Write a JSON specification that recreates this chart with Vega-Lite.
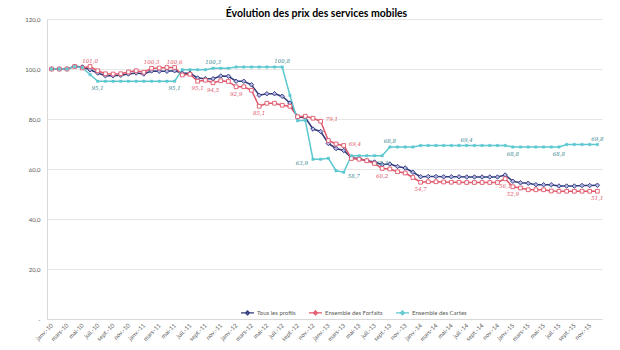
{
  "$schema": "https://vega.github.io/schema/vega-lite/v6.json",
  "width": 555,
  "height": 300,
  "autosize": {"type": "none"},
  "padding": {"left": 47, "top": 19, "right": 18, "bottom": 31},
  "background": "white",
  "title": {"text": "Évolution des prix des services mobiles", "fontSize": 10.5, "fontWeight": "bold", "anchor": "middle", "offset": -3, "dx": -8, "color": "#000000", "font": "Lato"},
  "datasets": {
    "prix": [
      {"m":"janv.-10","s":"Tous les profils","v":100},{"m":"févr.-10","s":"Tous les profils","v":100},{"m":"mars-10","s":"Tous les profils","v":100},{"m":"avr.-10","s":"Tous les profils","v":101.1},{"m":"mai-10","s":"Tous les profils","v":100.8},{"m":"juin-10","s":"Tous les profils","v":99.7},{"m":"juil.-10","s":"Tous les profils","v":98.4},{"m":"août-10","s":"Tous les profils","v":97.3},{"m":"sept.-10","s":"Tous les profils","v":97.3},{"m":"oct.-10","s":"Tous les profils","v":97.5},{"m":"nov.-10","s":"Tous les profils","v":98.0},{"m":"déc.-10","s":"Tous les profils","v":98.4},
      {"m":"janv.-11","s":"Tous les profils","v":98.0},{"m":"févr.-11","s":"Tous les profils","v":99.2},{"m":"mars-11","s":"Tous les profils","v":99.1},{"m":"avr.-11","s":"Tous les profils","v":99.1},{"m":"mai-11","s":"Tous les profils","v":99.3},{"m":"juin-11","s":"Tous les profils","v":98.3},{"m":"juil.-11","s":"Tous les profils","v":98.3},{"m":"août-11","s":"Tous les profils","v":96.4},{"m":"sept.-11","s":"Tous les profils","v":96.1},{"m":"oct.-11","s":"Tous les profils","v":96.1},{"m":"nov.-11","s":"Tous les profils","v":97.2},{"m":"déc.-11","s":"Tous les profils","v":97.1},
      {"m":"janv.-12","s":"Tous les profils","v":95.1},{"m":"févr.-12","s":"Tous les profils","v":95.1},{"m":"mars-12","s":"Tous les profils","v":93.7},{"m":"avr.-12","s":"Tous les profils","v":89.5},{"m":"mai-12","s":"Tous les profils","v":90.1},{"m":"juin-12","s":"Tous les profils","v":90.1},{"m":"juil.-12","s":"Tous les profils","v":89.1},{"m":"août-12","s":"Tous les profils","v":86.4},{"m":"sept.-12","s":"Tous les profils","v":80.8},{"m":"oct.-12","s":"Tous les profils","v":80.6},{"m":"nov.-12","s":"Tous les profils","v":76.0},{"m":"déc.-12","s":"Tous les profils","v":75.0},
      {"m":"janv.-13","s":"Tous les profils","v":70.2},{"m":"févr.-13","s":"Tous les profils","v":68.2},{"m":"mars-13","s":"Tous les profils","v":67.4},{"m":"avr.-13","s":"Tous les profils","v":64.5},{"m":"mai-13","s":"Tous les profils","v":64.1},{"m":"juin-13","s":"Tous les profils","v":63.3},{"m":"juil.-13","s":"Tous les profils","v":62.8},{"m":"août-13","s":"Tous les profils","v":61.8},{"m":"sept.-13","s":"Tous les profils","v":62.0},{"m":"oct.-13","s":"Tous les profils","v":61.0},{"m":"nov.-13","s":"Tous les profils","v":60.4},{"m":"déc.-13","s":"Tous les profils","v":58.7},
      {"m":"janv.-14","s":"Tous les profils","v":56.9},{"m":"févr.-14","s":"Tous les profils","v":57.0},{"m":"mars-14","s":"Tous les profils","v":57.0},{"m":"avr.-14","s":"Tous les profils","v":56.9},{"m":"mai-14","s":"Tous les profils","v":56.9},{"m":"juin-14","s":"Tous les profils","v":56.9},{"m":"juil.-14","s":"Tous les profils","v":56.8},{"m":"août-14","s":"Tous les profils","v":56.8},{"m":"sept.-14","s":"Tous les profils","v":56.8},{"m":"oct.-14","s":"Tous les profils","v":56.8},{"m":"nov.-14","s":"Tous les profils","v":56.8},{"m":"déc.-14","s":"Tous les profils","v":57.6},
      {"m":"janv.-15","s":"Tous les profils","v":55.1},{"m":"févr.-15","s":"Tous les profils","v":54.5},{"m":"mars-15","s":"Tous les profils","v":54.3},{"m":"avr.-15","s":"Tous les profils","v":53.7},{"m":"mai-15","s":"Tous les profils","v":53.7},{"m":"juin-15","s":"Tous les profils","v":53.7},{"m":"juil.-15","s":"Tous les profils","v":53.2},{"m":"août-15","s":"Tous les profils","v":53.2},{"m":"sept.-15","s":"Tous les profils","v":53.2},{"m":"oct.-15","s":"Tous les profils","v":53.4},{"m":"nov.-15","s":"Tous les profils","v":53.4},{"m":"déc.-15","s":"Tous les profils","v":53.5},

      {"m":"janv.-10","s":"Ensemble des Forfaits","v":100},{"m":"févr.-10","s":"Ensemble des Forfaits","v":100},{"m":"mars-10","s":"Ensemble des Forfaits","v":100},{"m":"avr.-10","s":"Ensemble des Forfaits","v":101.0},{"m":"mai-10","s":"Ensemble des Forfaits","v":100.4},{"m":"juin-10","s":"Ensemble des Forfaits","v":101.0},{"m":"juil.-10","s":"Ensemble des Forfaits","v":99.3},{"m":"août-10","s":"Ensemble des Forfaits","v":98.1},{"m":"sept.-10","s":"Ensemble des Forfaits","v":98.0},{"m":"oct.-10","s":"Ensemble des Forfaits","v":98.1},{"m":"nov.-10","s":"Ensemble des Forfaits","v":98.8},{"m":"déc.-10","s":"Ensemble des Forfaits","v":99.3},
      {"m":"janv.-11","s":"Ensemble des Forfaits","v":98.7},{"m":"févr.-11","s":"Ensemble des Forfaits","v":100.3},{"m":"mars-11","s":"Ensemble des Forfaits","v":100.4},{"m":"avr.-11","s":"Ensemble des Forfaits","v":100.6},{"m":"mai-11","s":"Ensemble des Forfaits","v":100.6},{"m":"juin-11","s":"Ensemble des Forfaits","v":97.6},{"m":"juil.-11","s":"Ensemble des Forfaits","v":97.9},{"m":"août-11","s":"Ensemble des Forfaits","v":95.1},{"m":"sept.-11","s":"Ensemble des Forfaits","v":95.5},{"m":"oct.-11","s":"Ensemble des Forfaits","v":94.5},{"m":"nov.-11","s":"Ensemble des Forfaits","v":95.3},{"m":"déc.-11","s":"Ensemble des Forfaits","v":95.0},
      {"m":"janv.-12","s":"Ensemble des Forfaits","v":92.9},{"m":"févr.-12","s":"Ensemble des Forfaits","v":92.9},{"m":"mars-12","s":"Ensemble des Forfaits","v":91.5},{"m":"avr.-12","s":"Ensemble des Forfaits","v":85.1},{"m":"mai-12","s":"Ensemble des Forfaits","v":86.3},{"m":"juin-12","s":"Ensemble des Forfaits","v":86.3},{"m":"juil.-12","s":"Ensemble des Forfaits","v":85.5},{"m":"août-12","s":"Ensemble des Forfaits","v":85.1},{"m":"sept.-12","s":"Ensemble des Forfaits","v":80.9},{"m":"oct.-12","s":"Ensemble des Forfaits","v":81.1},{"m":"nov.-12","s":"Ensemble des Forfaits","v":80.3},{"m":"déc.-12","s":"Ensemble des Forfaits","v":79.1},
      {"m":"janv.-13","s":"Ensemble des Forfaits","v":71.4},{"m":"févr.-13","s":"Ensemble des Forfaits","v":70.0},{"m":"mars-13","s":"Ensemble des Forfaits","v":69.4},{"m":"avr.-13","s":"Ensemble des Forfaits","v":64.2},{"m":"mai-13","s":"Ensemble des Forfaits","v":63.9},{"m":"juin-13","s":"Ensemble des Forfaits","v":63.3},{"m":"juil.-13","s":"Ensemble des Forfaits","v":62.2},{"m":"août-13","s":"Ensemble des Forfaits","v":60.2},{"m":"sept.-13","s":"Ensemble des Forfaits","v":60.0},{"m":"oct.-13","s":"Ensemble des Forfaits","v":58.9},{"m":"nov.-13","s":"Ensemble des Forfaits","v":58.4},{"m":"déc.-13","s":"Ensemble des Forfaits","v":56.6},
      {"m":"janv.-14","s":"Ensemble des Forfaits","v":54.7},{"m":"févr.-14","s":"Ensemble des Forfaits","v":54.9},{"m":"mars-14","s":"Ensemble des Forfaits","v":54.9},{"m":"avr.-14","s":"Ensemble des Forfaits","v":54.8},{"m":"mai-14","s":"Ensemble des Forfaits","v":54.7},{"m":"juin-14","s":"Ensemble des Forfaits","v":54.7},{"m":"juil.-14","s":"Ensemble des Forfaits","v":54.6},{"m":"août-14","s":"Ensemble des Forfaits","v":54.6},{"m":"sept.-14","s":"Ensemble des Forfaits","v":54.6},{"m":"oct.-14","s":"Ensemble des Forfaits","v":54.6},{"m":"nov.-14","s":"Ensemble des Forfaits","v":54.6},{"m":"déc.-14","s":"Ensemble des Forfaits","v":56.1},
      {"m":"janv.-15","s":"Ensemble des Forfaits","v":52.9},{"m":"févr.-15","s":"Ensemble des Forfaits","v":52.4},{"m":"mars-15","s":"Ensemble des Forfaits","v":51.7},{"m":"avr.-15","s":"Ensemble des Forfaits","v":51.7},{"m":"mai-15","s":"Ensemble des Forfaits","v":51.7},{"m":"juin-15","s":"Ensemble des Forfaits","v":51.2},{"m":"juil.-15","s":"Ensemble des Forfaits","v":51.1},{"m":"août-15","s":"Ensemble des Forfaits","v":51.1},{"m":"sept.-15","s":"Ensemble des Forfaits","v":51.1},{"m":"oct.-15","s":"Ensemble des Forfaits","v":51.1},{"m":"nov.-15","s":"Ensemble des Forfaits","v":51.1},{"m":"déc.-15","s":"Ensemble des Forfaits","v":51.1},

      {"m":"janv.-10","s":"Ensemble des Cartes","v":100},{"m":"févr.-10","s":"Ensemble des Cartes","v":100},{"m":"mars-10","s":"Ensemble des Cartes","v":100},{"m":"avr.-10","s":"Ensemble des Cartes","v":101.0},{"m":"mai-10","s":"Ensemble des Cartes","v":100.5},{"m":"juin-10","s":"Ensemble des Cartes","v":97.8},{"m":"juil.-10","s":"Ensemble des Cartes","v":95.1},{"m":"août-10","s":"Ensemble des Cartes","v":95.1},{"m":"sept.-10","s":"Ensemble des Cartes","v":95.1},{"m":"oct.-10","s":"Ensemble des Cartes","v":95.1},{"m":"nov.-10","s":"Ensemble des Cartes","v":95.1},{"m":"déc.-10","s":"Ensemble des Cartes","v":95.1},
      {"m":"janv.-11","s":"Ensemble des Cartes","v":95.1},{"m":"févr.-11","s":"Ensemble des Cartes","v":95.1},{"m":"mars-11","s":"Ensemble des Cartes","v":95.1},{"m":"avr.-11","s":"Ensemble des Cartes","v":95.1},{"m":"mai-11","s":"Ensemble des Cartes","v":95.1},{"m":"juin-11","s":"Ensemble des Cartes","v":99.7},{"m":"juil.-11","s":"Ensemble des Cartes","v":99.7},{"m":"août-11","s":"Ensemble des Cartes","v":99.7},{"m":"sept.-11","s":"Ensemble des Cartes","v":99.7},{"m":"oct.-11","s":"Ensemble des Cartes","v":100.3},{"m":"nov.-11","s":"Ensemble des Cartes","v":100.3},{"m":"déc.-11","s":"Ensemble des Cartes","v":100.3},
      {"m":"janv.-12","s":"Ensemble des Cartes","v":100.8},{"m":"févr.-12","s":"Ensemble des Cartes","v":100.8},{"m":"mars-12","s":"Ensemble des Cartes","v":100.8},{"m":"avr.-12","s":"Ensemble des Cartes","v":100.8},{"m":"mai-12","s":"Ensemble des Cartes","v":100.8},{"m":"juin-12","s":"Ensemble des Cartes","v":100.8},{"m":"juil.-12","s":"Ensemble des Cartes","v":100.8},{"m":"août-12","s":"Ensemble des Cartes","v":89.5},{"m":"sept.-12","s":"Ensemble des Cartes","v":79.3},{"m":"oct.-12","s":"Ensemble des Cartes","v":79.5},{"m":"nov.-12","s":"Ensemble des Cartes","v":63.9},{"m":"déc.-12","s":"Ensemble des Cartes","v":63.9},
      {"m":"janv.-13","s":"Ensemble des Cartes","v":64.3},{"m":"févr.-13","s":"Ensemble des Cartes","v":59.3},{"m":"mars-13","s":"Ensemble des Cartes","v":58.7},{"m":"avr.-13","s":"Ensemble des Cartes","v":65.3},{"m":"mai-13","s":"Ensemble des Cartes","v":65.3},{"m":"juin-13","s":"Ensemble des Cartes","v":65.3},{"m":"juil.-13","s":"Ensemble des Cartes","v":65.3},{"m":"août-13","s":"Ensemble des Cartes","v":65.3},{"m":"sept.-13","s":"Ensemble des Cartes","v":68.8},{"m":"oct.-13","s":"Ensemble des Cartes","v":68.8},{"m":"nov.-13","s":"Ensemble des Cartes","v":68.8},{"m":"déc.-13","s":"Ensemble des Cartes","v":68.8},
      {"m":"janv.-14","s":"Ensemble des Cartes","v":69.4},{"m":"févr.-14","s":"Ensemble des Cartes","v":69.4},{"m":"mars-14","s":"Ensemble des Cartes","v":69.4},{"m":"avr.-14","s":"Ensemble des Cartes","v":69.4},{"m":"mai-14","s":"Ensemble des Cartes","v":69.4},{"m":"juin-14","s":"Ensemble des Cartes","v":69.4},{"m":"juil.-14","s":"Ensemble des Cartes","v":69.4},{"m":"août-14","s":"Ensemble des Cartes","v":69.4},{"m":"sept.-14","s":"Ensemble des Cartes","v":69.4},{"m":"oct.-14","s":"Ensemble des Cartes","v":69.4},{"m":"nov.-14","s":"Ensemble des Cartes","v":69.4},{"m":"déc.-14","s":"Ensemble des Cartes","v":69.4},
      {"m":"janv.-15","s":"Ensemble des Cartes","v":68.8},{"m":"févr.-15","s":"Ensemble des Cartes","v":68.8},{"m":"mars-15","s":"Ensemble des Cartes","v":68.8},{"m":"avr.-15","s":"Ensemble des Cartes","v":68.8},{"m":"mai-15","s":"Ensemble des Cartes","v":68.8},{"m":"juin-15","s":"Ensemble des Cartes","v":68.8},{"m":"juil.-15","s":"Ensemble des Cartes","v":68.8},{"m":"août-15","s":"Ensemble des Cartes","v":69.8},{"m":"sept.-15","s":"Ensemble des Cartes","v":69.8},{"m":"oct.-15","s":"Ensemble des Cartes","v":69.8},{"m":"nov.-15","s":"Ensemble des Cartes","v":69.8},{"m":"déc.-15","s":"Ensemble des Cartes","v":69.8}
    ]
  },
  "data": {"name": "prix"},
  "encoding": {
    "x": {
      "field": "m", "type": "ordinal", "title": null,
      "scale": {"type": "point", "padding": 0.6, "domain": ["janv.-10","févr.-10","mars-10","avr.-10","mai-10","juin-10","juil.-10","août-10","sept.-10","oct.-10","nov.-10","déc.-10","janv.-11","févr.-11","mars-11","avr.-11","mai-11","juin-11","juil.-11","août-11","sept.-11","oct.-11","nov.-11","déc.-11","janv.-12","févr.-12","mars-12","avr.-12","mai-12","juin-12","juil.-12","août-12","sept.-12","oct.-12","nov.-12","déc.-12","janv.-13","févr.-13","mars-13","avr.-13","mai-13","juin-13","juil.-13","août-13","sept.-13","oct.-13","nov.-13","déc.-13","janv.-14","févr.-14","mars-14","avr.-14","mai-14","juin-14","juil.-14","août-14","sept.-14","oct.-14","nov.-14","déc.-14","janv.-15","févr.-15","mars-15","avr.-15","mai-15","juin-15","juil.-15","août-15","sept.-15","oct.-15","nov.-15","déc.-15"]},
      "axis": {
        "values": ["janv.-10","mars-10","mai-10","juil.-10","sept.-10","nov.-10","janv.-11","mars-11","mai-11","juil.-11","sept.-11","nov.-11","janv.-12","mars-12","mai-12","juil.-12","sept.-12","nov.-12","janv.-13","mars-13","mai-13","juil.-13","sept.-13","nov.-13","janv.-14","mars-14","mai-14","juil.-14","sept.-14","nov.-14","janv.-15","mars-15","mai-15","juil.-15","sept.-15","nov.-15"],
        "labelAngle": -45, "labelAlign": "right", "labelBaseline": "middle", "labelPadding": 5,
        "labelFontSize": 6, "labelColor": "#595959", "ticks": false, "grid": false,
        "domainColor": "#d9d9d9", "domainWidth": 1
      }
    },
    "y": {
      "field": "v", "type": "quantitative", "title": null,
      "scale": {"domain": [0, 120], "nice": false, "zero": true},
      "axis": {
        "values": [0, 20, 40, 60, 80, 100, 120], "format": ".1f",
        "labelExpr": "datum.value == 0 ? '-' : datum.label",
        "labelFontSize": 6, "labelColor": "#595959", "labelPadding": 7, "ticks": false,
        "domainColor": "#d9d9d9", "gridColor": "#e0e0e0", "gridWidth": 0.8
      }
    }
  },
  "layer": [
    {
      "mark": {"type": "line", "strokeWidth": 1.5},
      "encoding": {
        "color": {
          "field": "s", "type": "nominal", "title": null,
          "scale": {"domain": ["Tous les profils", "Ensemble des Forfaits", "Ensemble des Cartes"], "range": ["#313A7C", "#E0566A", "#5CC8D0"]},
          "legend": {
            "orient": "none", "legendX": 193, "legendY": 286, "direction": "horizontal",
            "symbolType": "M-1,0H1M0,-0.3L0.3,0L0,0.3L-0.3,0Z", "symbolSize": 170, "symbolStrokeWidth": 1.3,
            "labelFontSize": 6, "labelColor": "#595959", "labelOffset": 2, "columnPadding": 10
          }
        }
      }
    },
    {
      "transform": [{"filter": "datum.s == 'Tous les profils'"}],
      "mark": {"type": "point", "shape": "diamond", "size": 20, "filled": true, "fill": "#B4B8E0", "stroke": "#3B4486", "strokeWidth": 1, "opacity": 1}
    },
    {
      "transform": [{"filter": "datum.s == 'Ensemble des Forfaits'"}],
      "mark": {"type": "point", "shape": "square", "size": 14, "filled": true, "fill": "#ffffff", "stroke": "#E0566A", "strokeWidth": 0.9, "opacity": 1}
    },
    {
      "transform": [{"filter": "datum.s == 'Ensemble des Cartes'"}],
      "mark": {"type": "point", "shape": "square", "size": 6, "filled": true, "fill": "#5CC8D0", "stroke": "#5CC8D0", "strokeWidth": 0.4, "opacity": 1}
    },
    {
      "transform": [{"filter": "datum.s == 'Ensemble des Forfaits'"}, {"filter": {"field": "m", "oneOf": ["juin-10", "févr.-11", "mai-11"]}}],
      "mark": {"type": "text", "dy": -6, "fontSize": 5.5, "fontStyle": "italic", "color": "#E0566A", "font": "DejaVu Serif"},
      "encoding": {"text": {"field": "v", "type": "quantitative", "format": ".1f"}}
    },
    {
      "transform": [{"filter": "datum.s == 'Ensemble des Forfaits'"}, {"filter": {"field": "m", "oneOf": ["août-11", "oct.-11", "janv.-12", "avr.-12", "août-13", "janv.-14", "déc.-14", "janv.-15", "déc.-15"]}}],
      "mark": {"type": "text", "dy": 7, "fontSize": 5.5, "fontStyle": "italic", "color": "#E0566A", "font": "DejaVu Serif"},
      "encoding": {"text": {"field": "v", "type": "quantitative", "format": ".1f"}}
    },
    {
      "transform": [{"filter": "datum.s == 'Ensemble des Forfaits'"}, {"filter": {"field": "m", "oneOf": ["déc.-12", "mars-13"]}}],
      "mark": {"type": "text", "dx": 5, "dy": -2, "align": "left", "fontSize": 5.5, "fontStyle": "italic", "color": "#E0566A", "font": "DejaVu Serif"},
      "encoding": {"text": {"field": "v", "type": "quantitative", "format": ".1f"}}
    },
    {
      "transform": [{"filter": "datum.s == 'Ensemble des Cartes'"}, {"filter": {"field": "m", "oneOf": ["oct.-11", "juil.-12", "sept.-13", "juil.-14", "déc.-15"]}}],
      "mark": {"type": "text", "dy": -6, "fontSize": 5.5, "fontStyle": "italic", "color": "#3A8990", "font": "DejaVu Serif"},
      "encoding": {"text": {"field": "v", "type": "quantitative", "format": ".1f"}}
    },
    {
      "transform": [{"filter": "datum.s == 'Ensemble des Cartes'"}, {"filter": {"field": "m", "oneOf": ["juil.-10", "mai-11", "août-13", "janv.-15", "juil.-15"]}}],
      "mark": {"type": "text", "dy": 7, "fontSize": 5.5, "fontStyle": "italic", "color": "#3A8990", "font": "DejaVu Serif"},
      "encoding": {"text": {"field": "v", "type": "quantitative", "format": ".1f"}}
    },
    {
      "transform": [{"filter": "datum.s == 'Ensemble des Cartes'"}, {"filter": {"field": "m", "oneOf": ["nov.-12"]}}],
      "mark": {"type": "text", "dx": -5, "dy": 4, "align": "right", "fontSize": 5.5, "fontStyle": "italic", "color": "#3A8990", "font": "DejaVu Serif"},
      "encoding": {"text": {"field": "v", "type": "quantitative", "format": ".1f"}}
    },
    {
      "transform": [{"filter": "datum.s == 'Ensemble des Cartes'"}, {"filter": {"field": "m", "oneOf": ["mars-13"]}}],
      "mark": {"type": "text", "dx": 4, "dy": 4, "align": "left", "fontSize": 5.5, "fontStyle": "italic", "color": "#3A8990", "font": "DejaVu Serif"},
      "encoding": {"text": {"field": "v", "type": "quantitative", "format": ".1f"}}
    }
  ],
  "config": {
    "locale": {"number": {"decimal": ",", "thousands": " ", "grouping": [3], "currency": ["", " €"]}},
    "view": {"stroke": null},
    "font": "Lato",
    "axis": {"labelFont": "Lato"},
    "legend": {"labelFont": "Lato"}
  }
}
